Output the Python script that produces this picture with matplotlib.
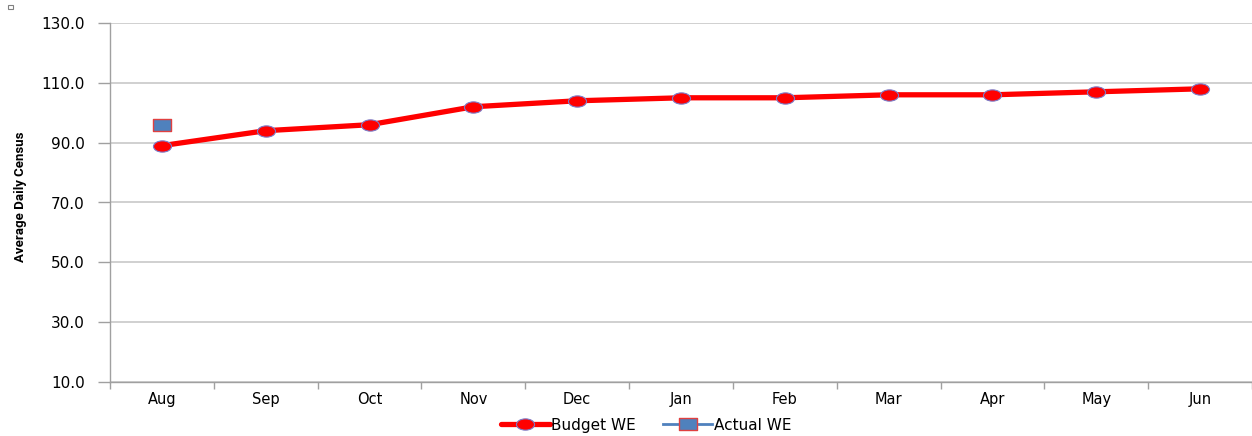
import numpy as np
import matplotlib
matplotlib.use("Agg")
import matplotlib.pyplot as plt
from matplotlib.path import Path
from matplotlib.transforms import Affine2D
from matplotlib.patches import Rectangle

months = ["Aug", "Sep", "Oct", "Nov", "Dec", "Jan", "Feb", "Mar", "Apr", "May", "Jun"]
budget_we = [89, 94, 96, 102, 104, 105, 105, 106, 106, 107, 108]
actual_we = [96]  # only August reported so far
y_ticks = [10, 30, 50, 70, 90, 110, 130]

# wide ellipse and wide rectangle marker shapes
ellipse = Path.unit_circle().transformed(Affine2D().scale(1.6, 1.0))
wide_rect = Path([(-1.5, -1), (1.5, -1), (1.5, 1), (-1.5, 1), (-1.5, -1)],
                 [Path.MOVETO, Path.LINETO, Path.LINETO, Path.LINETO, Path.CLOSEPOLY])

fig = plt.figure(figsize=(12.52, 4.36), dpi=100)
ax = fig.add_axes([110 / 1252, 1 - 382 / 436, 1142 / 1252, 359 / 436])

x = np.arange(len(months))
ax.plot(x, budget_we, color="#FF0000", lw=3.8, marker=ellipse, ms=13,
        mfc="#FF0000", mec="#7B7BC8", mew=0.8, label="Budget WE", zorder=3,
        solid_capstyle="round")
ax.plot(x[:len(actual_we)], actual_we, color="#4F81BD", lw=2, marker=wide_rect,
        ms=13, mfc="#4F81BD", mec="#E04040", mew=1.0, label="Actual WE", zorder=3)

ax.set_xlim(-0.5, len(months) - 0.5)
ax.set_ylim(10, 130)
ax.set_yticks(y_ticks)
ax.set_yticklabels([f"{v:.1f}" for v in y_ticks], fontsize=11)
ax.set_xticks(x)
ax.set_xticklabels(months, fontsize=10.5)
ax.set_xticks(np.arange(-0.5, len(months)), minor=True)
ax.tick_params(axis="x", which="major", length=0, pad=7)
ax.tick_params(axis="x", which="minor", length=5, color="#A0A0A0", width=1)
ax.tick_params(axis="y", length=9, color="#A0A0A0", width=1, pad=9)

ax.grid(axis="y", color="#C8C8C8", lw=1.2, zorder=0)
for s in ["top", "right"]:
    ax.spines[s].set_visible(False)
for s in ["left", "bottom"]:
    ax.spines[s].set_color("#A0A0A0")
    ax.spines[s].set_linewidth(1)

ax.set_ylabel("Average Daily Census", fontsize=9.5, fontweight="bold",
              family=["Roboto", "DejaVu Sans"])
ax.yaxis.set_label_coords(-83 / 1142, 0.515)

fig.legend(loc="center", bbox_to_anchor=(646 / 1252, 1 - 425 / 436), ncol=2,
           frameon=False, fontsize=11, handlelength=3.2, columnspacing=1.8,
           handletextpad=0.1)

# small square in the top-left corner
fig.patches.append(Rectangle((8 / 1252, 1 - 9 / 436), 5 / 1252, 4 / 436,
                             transform=fig.transFigure, fill=False,
                             ec="#808080", lw=0.8))

fig.savefig("out.png", dpi=100)
